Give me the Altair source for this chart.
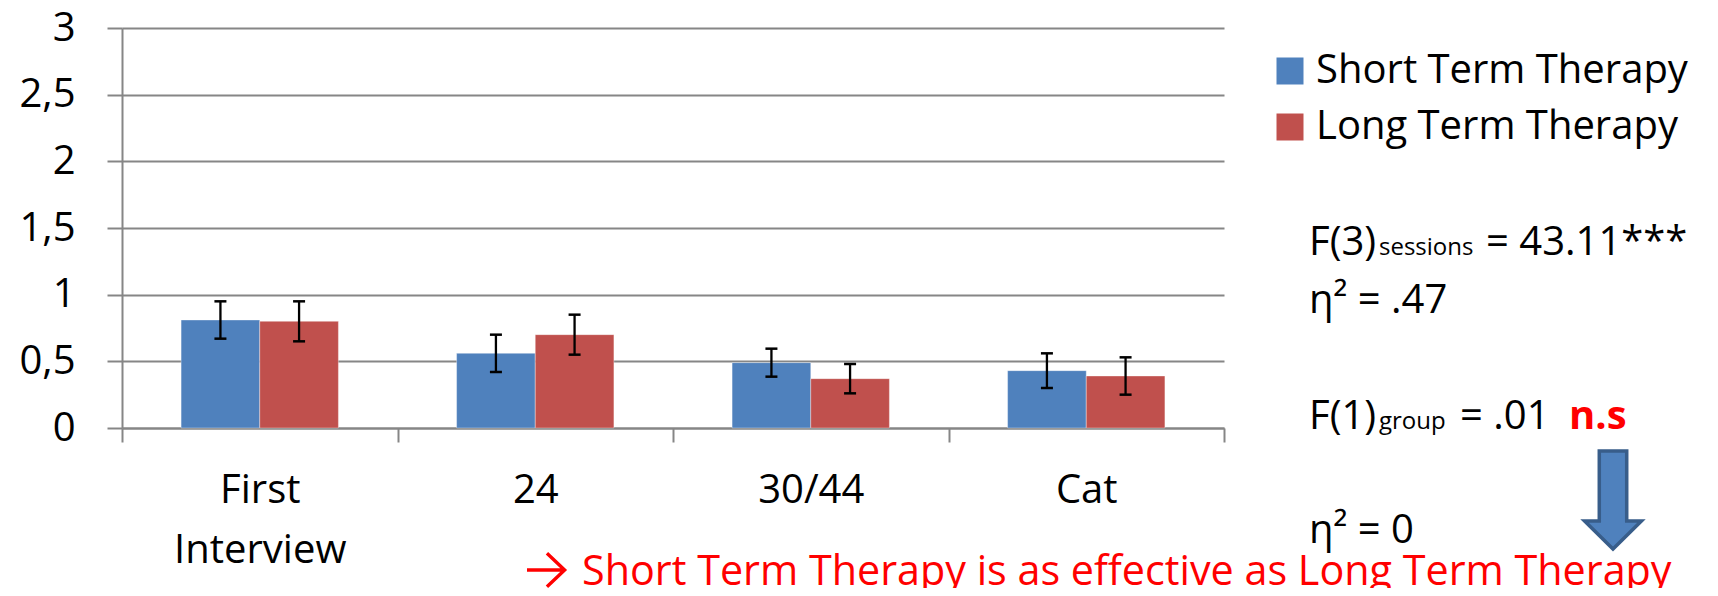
import altair as alt
import pandas as pd

categories = ["First Interview", "24", "30/44", "Cat"]
groups = ["Short Term Therapy", "Long Term Therapy"]
short_mean = [0.81, 0.56, 0.49, 0.43]
long_mean = [0.80, 0.70, 0.37, 0.39]
short_err = [0.14, 0.14, 0.105, 0.13]
long_err = [0.15, 0.15, 0.11, 0.14]
y_ticks = [0, 0.5, 1, 1.5, 2, 2.5, 3]

rows = []
for g, means, errs in [(groups[0], short_mean, short_err), (groups[1], long_mean, long_err)]:
    for c, m, e in zip(categories, means, errs):
        rows.append({"session": c, "group": g, "mean": m, "lo": m - e, "hi": m + e})
df = pd.DataFrame(rows)

FONT = "Open Sans"
FS = 40
GRAY = "#868686"

x_enc = alt.X(
    "session:N", sort=categories,
    scale=alt.Scale(paddingInner=0, paddingOuter=0),
    axis=alt.Axis(title=None, labelExpr="split(datum.label, ' ')", tickBand="extent",
                  labelAngle=0, ticks=True, tickSize=14, tickWidth=2, tickColor=GRAY,
                  domainColor=GRAY, domainWidth=2, labelFont=FONT, labelFontSize=FS,
                  labelColor="black", labelPadding=28, labelLineHeight=60,
                  labelBaseline="top", labelLimit=600, grid=False),
)
xo = alt.XOffset("group:N", sort=groups,
                 scale=alt.Scale(paddingInner=0, paddingOuter=0.7515))
y_scale = alt.Scale(domain=[0, 3], nice=False)
y_axis = alt.Axis(title=None, values=y_ticks,
                  labelExpr="replace(format(datum.value, '~g'), '.', ',')",
                  grid=True, gridColor=GRAY, gridWidth=2, tickSize=15, tickWidth=2,
                  tickColor=GRAY, domainColor=GRAY, domainWidth=2, labelFont=FONT,
                  labelFontSize=FS, labelColor="black", labelPadding=32)

bars = alt.Chart(df).mark_bar(stroke="white", strokeOpacity=0.35, strokeWidth=1).encode(
    x=x_enc, xOffset=xo,
    y=alt.Y("mean:Q", scale=y_scale, axis=y_axis),
    color=alt.Color("group:N", sort=groups,
                    scale=alt.Scale(domain=groups, range=["#4F81BD", "#C0504D"]),
                    legend=alt.Legend(title=None, orient="none", legendX=1148, legendY=23,
                                      labelFont=FONT, labelFontSize=FS, labelColor="black",
                                      symbolType="square", symbolSize=729, symbolStrokeWidth=0,
                                      rowPadding=16, labelOffset=6, padding=0, labelLimit=1000)),
)

rules = alt.Chart(df).mark_rule(color="black", strokeWidth=2.3).encode(
    x=x_enc, xOffset=xo, y=alt.Y("lo:Q", scale=y_scale, axis=y_axis), y2="hi:Q")
cap_hi = alt.Chart(df).mark_tick(color="black", thickness=2.5, size=12, opacity=1).encode(
    x=x_enc, xOffset=xo, y=alt.Y("hi:Q", scale=y_scale, axis=y_axis))
cap_lo = alt.Chart(df).mark_tick(color="black", thickness=2.5, size=12, opacity=1).encode(
    x=x_enc, xOffset=xo, y=alt.Y("lo:Q", scale=y_scale, axis=y_axis))

dummy = pd.DataFrame({"k": [0]})


def label(text, x, y, size=FS, color="black", weight="normal", font=FONT):
    return alt.Chart(dummy).mark_text(text=text, align="left", baseline="alphabetic", font=font,
                                      fontSize=size, color=color, fontWeight=weight).encode(
        x=alt.value(x), y=alt.value(y))


texts = [
    label("F(3)", 1187, 227),
    label("sessions", 1257, 227, size=24),
    label("= 43.11***", 1364, 227),
    label("η² = .47", 1187, 285),
    label("F(1)", 1187, 401),
    label("group", 1257, 401, size=24),
    label("= .01", 1338, 401),
    label("n.s", 1447, 401, color="#FF0000", weight="bold"),
    label("η² = 0", 1187, 515),
    label("Short Term Therapy is as effective as Long Term Therapy", 460, 557, size=41.3,
          color="#FF0000"),
]

red_arrow = alt.Chart(dummy).mark_point(
    shape="M -1 0 L 0.95 0 M 0.05 -0.88 L 0.98 0 L 0.05 0.88",
    size=1444, filled=False, stroke="#FF0000", strokeWidth=3.4,
    opacity=1, strokeOpacity=1,
).encode(x=alt.value(424), y=alt.value(542))

arrow = alt.Chart(dummy).mark_point(
    shape="M -0.28 -1 L 0.28 -1 L 0.28 0.43 L 0.58 0.43 L 0 1 L -0.58 0.43 L -0.28 0.43 Z",
    size=9604, filled=True, fill="#4F81BD", stroke="#385D8A", strokeWidth=3.5,
    opacity=1, fillOpacity=1, strokeOpacity=1,
).encode(x=alt.value(1491), y=alt.value(472))

chart = alt.layer(bars, rules, cap_hi, cap_lo, *texts, red_arrow, arrow).properties(
    width=1102, height=400,
    padding={"left": 114, "top": 20, "right": 486, "bottom": 160},
    autosize=alt.AutoSizeParams(type="none"),
    background="white",
).configure_view(stroke=None)

chart.save("out.html", embed_options={"renderer": "svg", "actions": False})
